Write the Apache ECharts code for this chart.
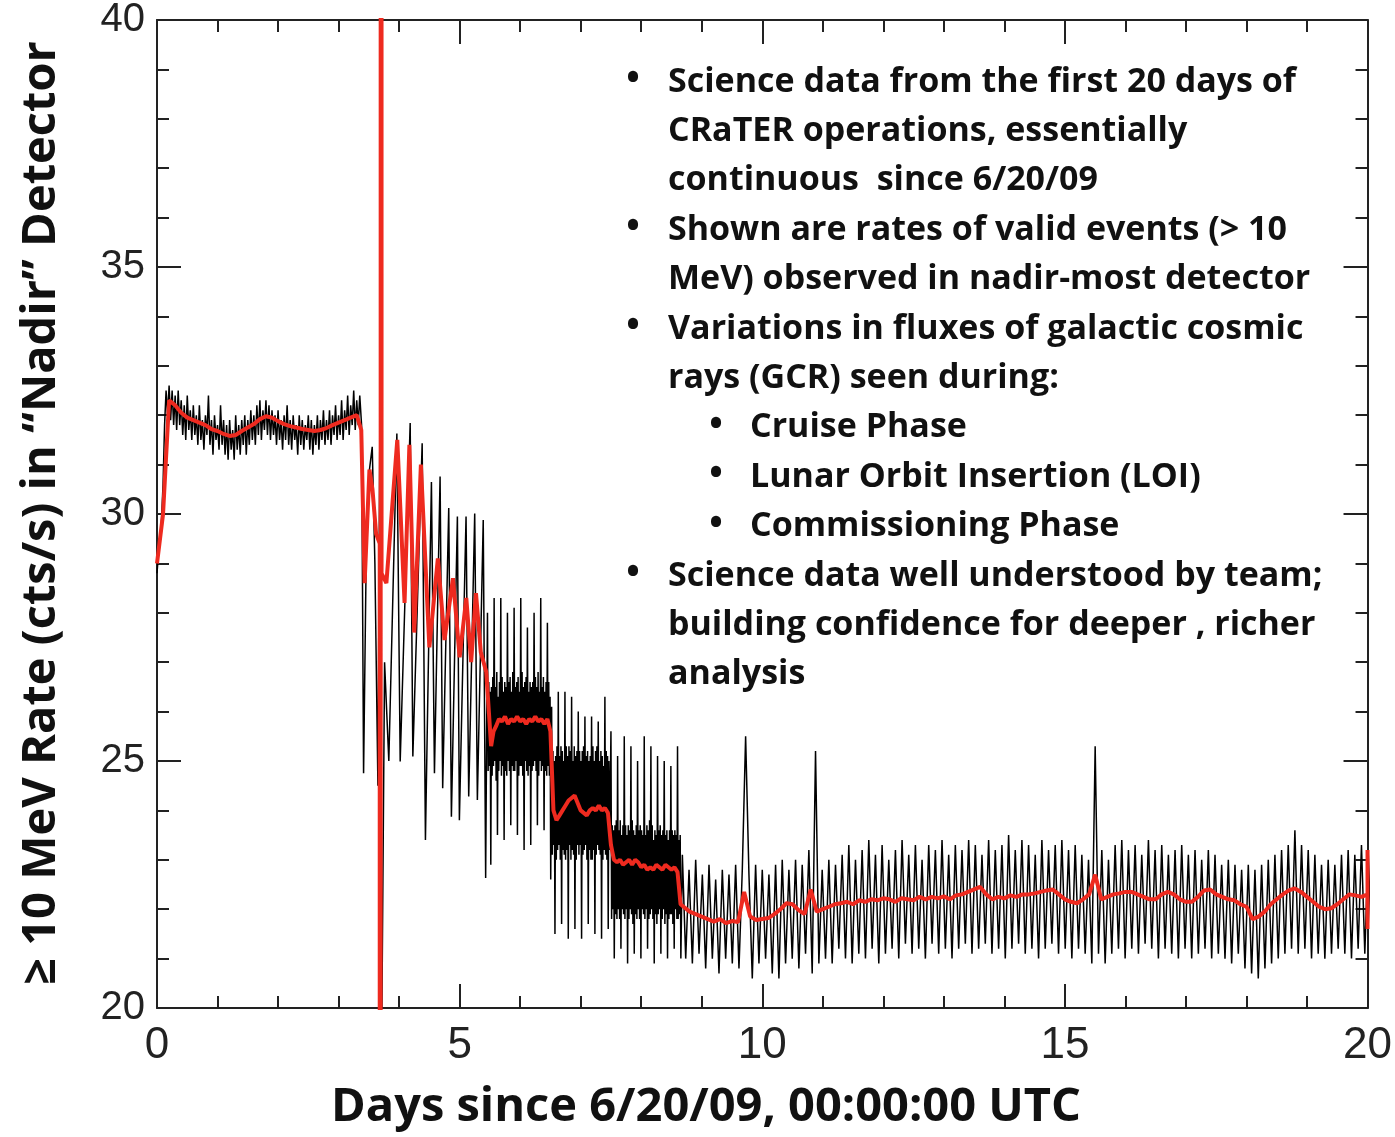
<!DOCTYPE html>
<html>
<head>
<meta charset="utf-8">
<script src="https://cdn.jsdelivr.net/npm/echarts@6/dist/echarts.min.js"></script>
<style>
  html, body { margin: 0; padding: 0; background: #fff; }
  #chart { width: 1395px; height: 1137px; }
</style>
</head>
<body>
<div id="chart"></div>
<script>
// 原始计数率（黑线），各阶段分开存放
const cruiseStart = 0, cruiseStep = 0.025;
const cruiseRaw = [28.8, 29.2, 29.5, 29.9, 30.6, 31.8, 32.5, 32.0, 32.6, 31.9,
  32.5, 31.8, 32.4, 31.7, 32.5, 31.8, 32.3, 31.6, 32.2, 31.5,
  32.4, 31.7, 32.1, 31.5, 32.2, 31.6, 32.0, 31.4, 32.2, 31.5,
  31.9, 31.3, 32.0, 31.6, 32.4, 31.4, 31.9, 31.2, 32.0, 31.5,
  31.8, 31.3, 32.2, 31.4, 31.9, 31.2, 31.8, 31.1, 31.9, 31.3,
  31.7, 31.1, 32.0, 31.3, 31.8, 31.2, 31.9, 31.4, 32.0, 31.2,
  31.9, 31.4, 32.1, 31.5, 32.0, 31.4, 32.2, 31.6, 32.3, 31.5,
  32.1, 31.7, 32.3, 31.6, 32.2, 31.5, 32.1, 31.6, 32.0, 31.4,
  32.1, 31.5, 31.9, 31.3, 32.0, 31.5, 32.2, 31.4, 31.9, 31.3,
  32.0, 31.5, 31.8, 31.2, 32.0, 31.4, 31.9, 31.3, 31.8, 31.5,
  32.0, 31.3, 31.9, 31.2, 31.8, 31.4, 32.0, 31.3, 31.9, 31.5,
  32.1, 31.4, 31.9, 31.5, 32.1, 31.4, 32.0, 31.6, 32.2, 31.5,
  32.0, 31.6, 32.3, 31.5, 32.1, 31.7, 32.4, 31.6, 32.2, 31.8,
  32.5, 31.7, 32.3, 31.8, 32.4];

// LOI 阶段：[天, 计数率]
const loiRaw = [[3.38, 31.8], [3.413, 24.75], [3.46, 29.5], [3.5, 30.8], [3.556, 31.36],
  [3.6, 29.0], [3.65, 24.5], [3.69, 33.6], [3.71, 19.0], [3.76, 27.0], [3.83, 25.0],
  [3.963, 31.63], [4.018, 24.99], [4.183, 31.84], [4.227, 25.09], [4.381, 31.43],
  [4.435, 23.4], [4.534, 30.65], [4.584, 24.75], [4.677, 30.76], [4.72, 24.45],
  [4.82, 30.12], [4.864, 23.87], [4.963, 29.95], [4.996, 23.8], [5.106, 29.95],
  [5.15, 24.28], [5.249, 30.01], [5.293, 24.21], [5.39, 29.88], [5.43, 22.63]];

// 调试期三段
const commStep = 0.011;
const commCStart = 5.46;
const commC = [
  28.0, 24.8, 26.6, 24.9, 26.4, 22.9, 26.5, 24.7, 26.7, 24.9,
  28.3, 25.0, 26.5, 24.6, 26.8, 23.5, 26.3, 24.8, 26.6, 25.0,
  28.3, 24.7, 26.7, 24.9, 26.4, 23.4, 26.6, 24.8, 26.5, 24.7,
  28.0, 25.0, 26.6, 24.8, 26.7, 23.7, 26.4, 24.9, 26.8, 24.8,
  28.1, 24.8, 26.5, 25.0, 26.6, 23.5, 26.7, 24.7, 26.4, 24.9,
  28.3, 24.9, 26.8, 24.7, 26.5, 23.2, 26.6, 25.0, 26.7, 24.8,
  27.7, 24.7, 26.4, 24.9, 26.6, 23.3, 26.5, 24.8, 26.6, 24.9,
  28.0, 25.0, 26.7, 24.8, 26.5, 23.7, 26.8, 24.7, 26.4, 25.0,
  28.3, 24.8, 26.5, 24.9, 26.7, 23.6, 26.4, 24.8, 26.6, 24.7,
  27.8, 24.9, 26.6, 24.7, 26.3, 22.6];
const commDStart = 6.52;
const commD = [
  26.1, 23.1, 25.2, 23.3, 25.0, 21.5, 25.1, 23.0, 25.3, 23.2,
  26.4, 23.3, 25.1, 23.0, 25.3, 21.7, 25.2, 23.2, 25.0, 23.1,
  26.4, 23.0, 25.3, 23.2, 25.1, 21.4, 25.3, 23.3, 25.2, 23.0,
  26.3, 23.2, 25.0, 23.1, 25.3, 21.6, 25.1, 23.0, 25.2, 23.3,
  26.0, 23.1, 25.2, 23.3, 25.0, 21.4, 25.2, 23.1, 25.3, 23.2,
  25.9, 23.3, 25.1, 23.0, 25.2, 21.7, 25.0, 23.2, 25.1, 23.0,
  25.9, 23.0, 25.3, 23.2, 25.0, 21.5, 25.2, 23.1, 25.3, 23.3,
  25.8, 23.2, 25.0, 23.1, 25.2, 21.4, 25.1, 23.0, 24.9, 23.2,
  26.3, 23.1, 25.2, 23.0, 25.1, 21.6, 25.0, 23.2];
const commEStart = 7.5;
const commE = [
  25.6, 21.8, 23.7, 22.0, 23.6, 21.0, 23.7, 21.9, 23.8, 21.8,
  25.1, 22.0, 23.6, 21.8, 23.8, 21.2, 23.5, 22.0, 23.7, 21.9,
  25.5, 21.8, 23.7, 22.0, 23.5, 20.9, 23.7, 21.8, 23.6, 22.0,
  25.3, 21.9, 23.8, 21.7, 23.6, 21.1, 23.5, 21.9, 23.7, 21.8,
  25.0, 22.0, 23.6, 21.8, 23.7, 21.0, 23.6, 22.0, 23.5, 21.9,
  25.5, 21.8, 23.5, 22.0, 23.7, 21.2, 23.6, 21.8, 23.8, 21.9,
  25.3, 22.0, 23.7, 21.8, 23.4, 20.9, 23.6, 21.9, 23.5, 21.7,
  25.1, 21.9, 23.6, 22.0, 23.7, 21.1, 23.5, 21.8, 23.6, 22.0,
  25.0, 21.7, 23.5, 21.9, 23.6, 21.0, 23.4, 21.8, 23.6, 21.9,
  24.9, 21.9, 23.6, 21.7, 23.5, 21.2, 23.6, 22.0, 23.5, 21.8,
  25.3, 21.8, 23.4, 21.9, 23.5, 21.0];

// 月球轨道期
const orbitStart = 8.68, orbitStep = 0.055;
const orbitRaw = [23.1, 21.0, 22.8, 20.9, 23.0, 21.1, 22.7, 20.8, 22.9, 21.0,
  22.6, 20.7, 22.8, 21.0, 22.7, 20.9, 22.9, 20.8, 22.8, 25.5,
  22.7, 20.6, 22.9, 20.9, 22.8, 21.0, 22.7, 20.7, 22.9, 20.6,
  23.0, 20.9, 22.8, 21.0, 23.0, 20.8, 22.9, 21.1, 23.2, 20.7,
  25.2, 20.9, 22.8, 21.0, 23.0, 20.9, 22.9, 21.2, 23.1, 21.0,
  23.3, 20.9, 23.0, 21.1, 23.2, 21.0, 23.4, 21.2, 23.1, 20.9,
  23.3, 21.1, 23.0, 21.2, 23.2, 21.0, 23.4, 21.3, 23.1, 21.1,
  23.3, 21.2, 23.0, 21.0, 23.3, 21.3, 23.2, 21.1, 23.4, 21.2,
  23.1, 21.0, 23.3, 21.2, 23.2, 21.3, 23.4, 21.1, 23.3, 21.2,
  23.1, 21.3, 23.4, 21.1, 23.2, 21.2, 23.3, 21.0, 23.5, 21.2,
  23.2, 21.3, 23.4, 21.1, 23.3, 21.2, 23.1, 21.0, 23.4, 21.2,
  23.2, 21.3, 23.3, 21.1, 23.4, 21.2, 23.2, 21.0, 23.3, 21.2,
  23.1, 21.1, 23.0, 20.9, 25.3, 21.1, 23.2, 20.9, 23.0, 21.1,
  23.3, 21.2, 23.4, 21.0, 23.2, 21.2, 23.3, 21.1, 23.1, 21.3,
  23.4, 21.2, 23.2, 21.0, 23.3, 21.2, 23.1, 21.1, 23.2, 21.0,
  23.3, 21.2, 23.1, 21.0, 23.2, 21.1, 23.0, 21.2, 23.2, 21.0,
  23.1, 21.1, 22.9, 21.0, 23.0, 20.9, 22.9, 21.1, 22.8, 20.8,
  22.9, 20.7, 22.8, 20.6, 22.9, 20.8, 23.0, 20.9, 23.1, 21.0,
  23.2, 21.1, 23.3, 21.2, 23.6, 21.1, 23.3, 21.2, 23.2, 21.0,
  23.1, 21.1, 22.9, 21.0, 23.0, 21.1, 22.9, 21.2, 23.1, 21.1,
  23.2, 21.0, 23.1, 21.2, 23.3, 21.1, 23.2, 21.3];

// 平滑曲线（红线）
const cruiseSmoothStep = 0.1;
const cruiseSmooth = [29.0, 30.0, 32.3, 32.2, 32.05, 31.95, 31.9, 31.85, 31.8, 31.72,
  31.68, 31.62, 31.58, 31.6, 31.68, 31.75, 31.82, 31.92, 31.98, 31.95,
  31.88, 31.82, 31.78, 31.75, 31.72, 31.7, 31.68, 31.7, 31.74, 31.8,
  31.85, 31.9, 31.95, 32.0];
const loiSmooth = [[3.33, 32.0], [3.375, 31.7], [3.43, 28.6], [3.51, 30.9], [3.56, 30.5],
  [3.62, 29.6], [3.68, 29.4], [3.69, -500], [3.70, 500], [3.71, 28.8], [3.79, 28.6],
  [3.97, 31.5], [4.09, 28.2], [4.17, 31.4], [4.25, 27.6], [4.36, 31.0], [4.5, 27.3],
  [4.64, 29.1], [4.75, 27.45], [4.89, 28.7], [5.0, 27.1], [5.11, 28.3], [5.19, 27.0],
  [5.27, 28.4], [5.35, 27.2], [5.44, 26.8], [5.52, 25.3], [5.56, 25.6]];
const midSmoothStart = 5.6, midSmoothStep = 0.05;
const midSmooth = [25.7, 25.85, 25.8, 25.9, 25.75, 25.85, 25.8, 25.9, 25.8, 25.85,
  25.75, 25.85, 25.8, 25.9, 25.8, 25.85, 25.75, 25.85, 25.6, 24.0,
  23.8, 23.9, 24.0, 24.1, 24.2, 24.25, 24.3, 24.15, 24.0, 23.95,
  23.9, 24.0, 24.05, 24.0, 24.1, 24.0, 24.05, 23.95, 23.3, 23.0,
  22.95, 23.0, 22.9, 22.95, 23.0, 22.9, 23.0, 22.95, 22.85, 22.9,
  22.8, 22.85, 22.8, 22.9, 22.85, 22.8, 22.9, 22.85, 22.8, 22.85,
  22.75, 22.1];
const orbitSmoothStart = 8.7, orbitSmoothStep = 0.1;
const orbitSmooth = [22.05, 21.95, 21.9, 21.85, 21.8, 21.75, 21.8, 21.72, 21.76, 21.74,
  22.35, 21.85, 21.78, 21.8, 21.82, 21.9, 22.0, 22.12, 22.1, 21.98,
  21.9, 22.4, 21.95, 22.0, 22.05, 22.1, 22.12, 22.15, 22.1, 22.18,
  22.15, 22.2, 22.18, 22.22, 22.2, 22.15, 22.22, 22.2, 22.18, 22.25,
  22.2, 22.25, 22.22, 22.26, 22.2, 22.28, 22.3, 22.35, 22.4, 22.45,
  22.3, 22.2, 22.25, 22.22, 22.28, 22.25, 22.3, 22.3, 22.32, 22.35,
  22.38, 22.4, 22.3, 22.2, 22.15, 22.12, 22.2, 22.3, 22.7, 22.2,
  22.25, 22.3, 22.32, 22.35, 22.35, 22.3, 22.25, 22.2, 22.2, 22.3,
  22.35, 22.3, 22.2, 22.15, 22.15, 22.25, 22.38, 22.4, 22.3, 22.25,
  22.2, 22.18, 22.1, 22.05, 21.8, 21.85, 21.95, 22.1, 22.2, 22.3,
  22.38, 22.42, 22.35, 22.25, 22.15, 22.05, 22.0, 22.02, 22.1, 22.2,
  22.3, 22.28, 22.25, 22.3];
const smoothEnd = [[20.0, 23.2], [20.0, 21.6]];

// 注释文字
const noteText = [
  'Science data from the first 20 days of',
  'CRaTER operations, essentially',
  'continuous  since 6/20/09',
  'Shown are rates of valid events (> 10',
  'MeV) observed in nadir-most detector',
  'Variations in fluxes of galactic cosmic',
  'rays (GCR) seen during:',
  'Cruise Phase',
  'Lunar Orbit Insertion (LOI)',
  'Commissioning Phase',
  'Science data well understood by team;',
  'building confidence for deeper , richer',
  'analysis'
];
const noteLevel = [0, 0, 0, 0, 0, 0, 0, 1, 1, 1, 0, 0, 0];
const noteBullet = [1, 0, 0, 1, 0, 1, 0, 1, 1, 1, 1, 0, 0];

const xTitle = 'Days since 6/20/09, 00:00:00 UTC';
const yTitle = '\u2265 10 MeV Rate (cts/s) in \u201CNadir\u201D Detector';

const toPairs = (start, step, values) => values.map((v, i) => [start + i * step, v]);

const rawData = [].concat(
  toPairs(cruiseStart, cruiseStep, cruiseRaw),
  loiRaw,
  toPairs(commCStart, commStep, commC),
  toPairs(commDStart, commStep, commD),
  toPairs(commEStart, commStep, commE),
  toPairs(orbitStart, orbitStep, orbitRaw)
);
const smoothData = [].concat(
  toPairs(0, cruiseSmoothStep, cruiseSmooth),
  loiSmooth,
  toPairs(midSmoothStart, midSmoothStep, midSmooth),
  toPairs(orbitSmoothStart, orbitSmoothStep, orbitSmooth),
  smoothEnd
);

const noteFont = 'bold 34px "Open Sans"';
const graphics = [];
noteText.forEach((t, i) => {
  const y = 80 + i * 49.4;
  const sub = noteLevel[i] === 1;
  if (noteBullet[i]) {
    graphics.push({
      type: 'text', x: sub ? 716 : 633, y: y,
      style: { text: '\u2022', font: 'bold 36px "Open Sans"', fill: '#111', textAlign: 'center', textVerticalAlign: 'middle' }
    });
  }
  graphics.push({
    type: 'text', x: sub ? 750 : 668, y: y + 2,
    style: { text: t, font: noteFont, fill: '#111', textAlign: 'left', textVerticalAlign: 'middle' }
  });
});
graphics.push({
  type: 'text', x: 706, y: 1108,
  style: { text: xTitle, font: 'bold 47px "Open Sans"', fill: '#111', textAlign: 'center', textVerticalAlign: 'middle' }
});
graphics.push({
  type: 'text', x: 42, y: 513, rotation: Math.PI / 2,
  style: { text: yTitle, font: 'bold 47px "Open Sans"', fill: '#111', textAlign: 'center', textVerticalAlign: 'middle' }
});

const frameLine = { show: true, onZero: false, lineStyle: { color: '#222', width: 2 } };
const tick = { show: true, inside: true, length: 24, lineStyle: { color: '#222', width: 2 } };
const minor = { show: true, splitNumber: 5, length: 12, lineStyle: { color: '#222', width: 2 } };

const chart = echarts.init(document.getElementById('chart'));
chart.setOption({
  animation: false,
  backgroundColor: '#fff',
  grid: { left: 157, right: 25, top: 20, bottom: 129 },
  xAxis: [
    {
      type: 'value', min: 0, max: 20, interval: 5, position: 'bottom',
      axisLine: frameLine, axisTick: tick, minorTick: minor,
      splitLine: { show: false },
      axisLabel: { fontFamily: 'Liberation Sans', fontSize: 44, color: '#222', margin: 16 }
    },
    {
      type: 'value', min: 0, max: 20, interval: 5, position: 'top',
      axisLine: frameLine, axisTick: tick, minorTick: minor,
      splitLine: { show: false }, axisLabel: { show: false }
    }
  ],
  yAxis: [
    {
      type: 'value', min: 20, max: 40, interval: 5, position: 'left',
      axisLine: frameLine, axisTick: tick, minorTick: minor,
      splitLine: { show: false },
      axisLabel: { fontFamily: 'Liberation Sans', fontSize: 40, color: '#222', margin: 12 }
    },
    {
      type: 'value', min: 20, max: 40, interval: 5, position: 'right',
      axisLine: frameLine, axisTick: tick, minorTick: minor,
      splitLine: { show: false }, axisLabel: { show: false }
    }
  ],
  series: [
    {
      name: 'raw', type: 'line', data: rawData, showSymbol: false, symbol: 'none',
      clip: true, lineStyle: { color: '#000', width: 1.5 }, z: 2
    },
    {
      name: 'smooth', type: 'line', data: smoothData, showSymbol: false, symbol: 'none',
      clip: true, lineStyle: { color: '#ee2a1f', width: 4 }, z: 3
    }
  ],
  graphic: graphics
});
</script>
</body>
</html>
